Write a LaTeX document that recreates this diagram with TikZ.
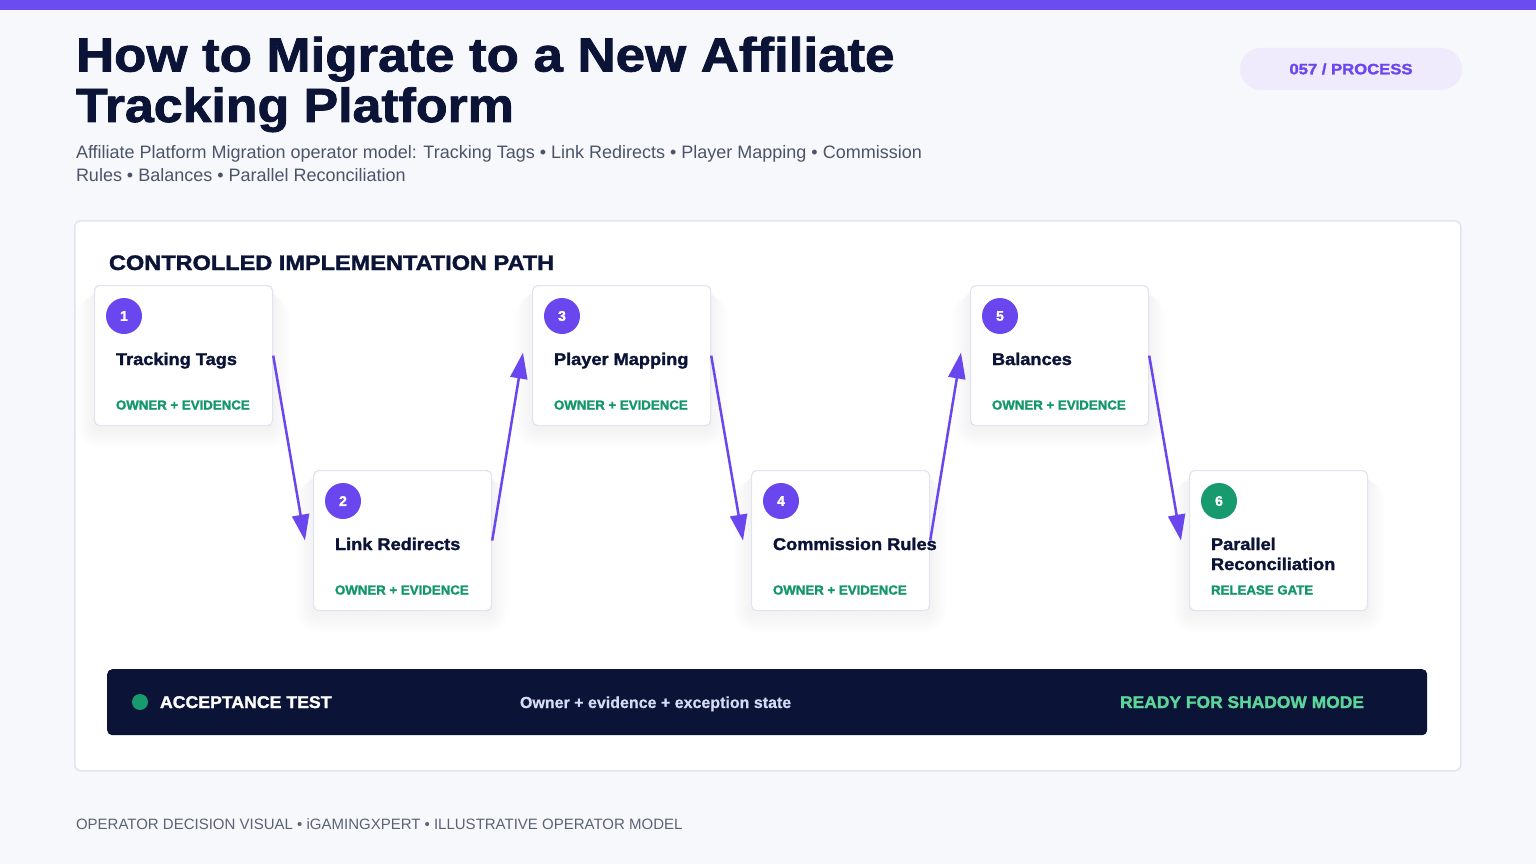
\documentclass[tikz,border=0pt]{standalone}
\usepackage{fontspec}
\setmainfont{Liberation Sans}
\newfontfamily\heavy[FakeBold=1.6]{Liberation Sans Bold}
\newfontfamily\semi[FakeBold=0.6]{Liberation Sans Bold}
\usetikzlibrary{arrows.meta}
\newcommand\hstretch[2]{\scalebox{#1}[1]{#2}}
\definecolor{bgc}{HTML}{F7F8FC}
\definecolor{topbar}{HTML}{6B4CF0}
\definecolor{navy}{HTML}{0B1437}
\definecolor{purp}{HTML}{6A46EE}
\definecolor{grn}{HTML}{13966B}
\definecolor{grncirc}{HTML}{179A6E}
\definecolor{cardline}{HTML}{E1E4F0}
\definecolor{badgefill}{HTML}{EFEBFD}
\definecolor{subgray}{HTML}{4B5468}
\definecolor{barlight}{HTML}{D5DBF5}
\definecolor{ready}{HTML}{5CD59A}
\definecolor{footgray}{HTML}{5A6275}
\definecolor{shadowc}{HTML}{3A4070}
\tikzset{
  txt/.style={inner sep=0pt, outer sep=0pt},
  card/.style={draw=cardline, line width=1.2pt, fill=white, rounded corners=5pt,
    minimum width=178pt, minimum height=140pt, anchor=north west},
  numcirc/.style={circle, fill=purp, minimum size=36pt, inner sep=0pt, text=white,
    font=\heavy\fontsize{14}{14}\selectfont},
  cardtitle/.style={txt, anchor=base west, text=navy, font=\heavy\fontsize{17}{17}\selectfont},
  tagtxt/.style={txt, anchor=base west, text=grn, font=\heavy\fontsize{13}{13}\selectfont},
  arr/.style={draw=purp, line width=2.5pt, -{Triangle[width=17pt,length=26pt]}},
}
\begin{document}
\begin{tikzpicture}[x=1pt,y=-1pt]
\useasboundingbox (0,0) rectangle (1536,864);
\fill[bgc] (0,0) rectangle (1536,864);
\fill[topbar] (0,0) rectangle (1536,10);

% title
\node[txt, anchor=base west, text=navy, font=\heavy\fontsize{48}{48}\selectfont] (title1) at (76,71.5) {\hstretch{1.10}{How to Migrate to a New Affiliate}};
\node[txt, anchor=base west, text=navy, font=\heavy\fontsize{48}{48}\selectfont] (title2) at (76,122) {\hstretch{1.08}{Tracking Platform}};
\node[txt, anchor=base west, text=subgray, font=\fontsize{18}{18}\selectfont] (sub1) at (76,158) {Affiliate Platform Migration operator model: Tracking Tags • Link Redirects • Player Mapping • Commission};
\node[txt, anchor=base west, text=subgray, font=\fontsize{18}{18}\selectfont] (sub2) at (76,181) {Rules • Balances • Parallel Reconciliation};

% badge
\node[fill=badgefill, rounded corners=21pt, minimum width=222pt, minimum height=42pt, inner sep=0pt,
  text=purp, font=\heavy\fontsize{15}{15}\selectfont] (badge) at (1351,69) {\hstretch{1.11}{057 / PROCESS}};

% panel
\node[draw=cardline, line width=1.5pt, fill=white, rounded corners=6pt, minimum width=1386pt,
  minimum height=550pt, anchor=north west] (panel) at (74,220) {};
\node[txt, anchor=base west, text=navy, font=\heavy\fontsize{21}{21}\selectfont] (path) at (109,270) {\hstretch{1.12}{CONTROLLED IMPLEMENTATION PATH}};

% soft card shadows
\foreach \x/\y in {94/285,313/470,532/285,751/470,970/285,1189/470}{
  \foreach \k in {1,...,12}{
    \fill[shadowc, opacity=0.0045, rounded corners=5pt+\k*1.5pt]
      (\x-\k*1.5, \y+4+\k*0.5) rectangle (\x+178+\k*1.5, \y+140+4+\k*1.6);
  }
}

% cards
\node[card] (c1) at (94,285) {};
\node[card] (c2) at (313,470) {};
\node[card] (c3) at (532,285) {};
\node[card] (c4) at (751,470) {};
\node[card] (c5) at (970,285) {};
\node[card] (c6) at (1189,470) {};

\foreach \i/\t in {1/Tracking Tags,2/Link Redirects,3/Player Mapping,4/Commission Rules,5/Balances}{
  \node[numcirc] (n\i) at ([xshift=30pt,yshift=-31pt]c\i.north west) {\i};
  \node[cardtitle] (t\i) at ([xshift=22pt,yshift=-80pt]c\i.north west) {\hstretch{1.07}{\t}};
  \node[tagtxt] (o\i) at ([xshift=22pt,yshift=-124.5pt]c\i.north west) {\hstretch{1.02}{OWNER + EVIDENCE}};
}
\node[numcirc, fill=grncirc] (n6) at ([xshift=30pt,yshift=-31pt]c6.north west) {6};
\node[cardtitle] (t6a) at ([xshift=22pt,yshift=-80pt]c6.north west) {\hstretch{1.07}{Parallel}};
\node[cardtitle] (t6b) at ([xshift=22pt,yshift=-100pt]c6.north west) {\hstretch{1.07}{Reconciliation}};
\node[tagtxt] (o6) at ([xshift=22pt,yshift=-124.5pt]c6.north west) {\hstretch{1.02}{RELEASE GATE}};

% arrows
\draw[arr] (c1.east) -- ([xshift=-8pt]c2.west);
\draw[arr] (c2.east) -- ([xshift=-9pt,yshift=3pt]c3.west);
\draw[arr] (c3.east) -- ([xshift=-8pt]c4.west);
\draw[arr] (c4.east) -- ([xshift=-9pt,yshift=3pt]c5.west);
\draw[arr] (c5.east) -- ([xshift=-8pt]c6.west);

% acceptance bar
\node[fill=navy, rounded corners=5pt, minimum width=1320pt, minimum height=66pt, anchor=north west] (bar) at (107,669) {};
\node[circle, fill=grncirc, minimum size=16pt, inner sep=0pt] (dot) at (140,702) {};
\node[txt, anchor=base west, text=white, font=\heavy\fontsize{17}{17}\selectfont] (acc) at (160,708) {\hstretch{1.04}{ACCEPTANCE TEST}};
\node[txt, anchor=base west, text=barlight, font=\semi\fontsize{16}{16}\selectfont] (own) at (520,708) {Owner + evidence + exception state};
\node[txt, anchor=base east, text=ready, font=\heavy\fontsize{17}{17}\selectfont] (rdy) at (1364,708) {\hstretch{1.025}{READY FOR SHADOW MODE}};

% footer
\node[txt, anchor=base west, text=footgray, font=\fontsize{15}{15}\selectfont] (foot) at (76,829) {OPERATOR DECISION VISUAL • iGAMINGXPERT • ILLUSTRATIVE OPERATOR MODEL};
\end{tikzpicture}
\end{document}
